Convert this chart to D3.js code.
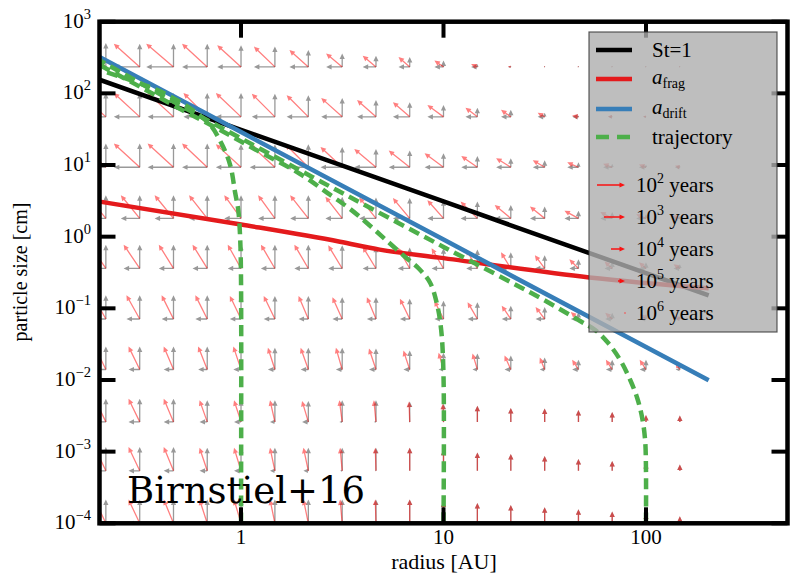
<!DOCTYPE html>
<html>
<head>
<meta charset="utf-8">
<script src="https://cdn.jsdelivr.net/npm/d3@7/dist/d3.min.js"></script>
<style>
  body { margin: 0; background: #fff; }
  svg { display: block; }
  text { font-family: "Liberation Serif", "Times New Roman", serif; fill: #000; }
</style>
</head>
<body>
<svg id="chart" width="795" height="574"></svg>
<script>
// ---- grid of the velocity field ----
const radii = [0.215, 0.316, 0.464, 0.681, 1, 1.47, 2.15, 3.16, 4.64, 6.81, 10, 14.7, 21.5, 31.6, 46.4, 68.1, 100, 147]; // AU
const sizes = [234, 47, 9.3, 1.8, 0.36, 0.071, 0.014, 0.0026, 0.00054, 0.0001]; // cm

// log10 of the drift timescale [yr], one row per particle size
const driftLogYears = [
  [2.3,2.3,2.1,2.4,2.6,3.0,3.3,3.7,4.1,4.4,4.7,5.1,5.6,5.9,5.9,5.9,5.9,5.9],
  [2.3,2.3,2.3,2.6,2.4,2.7,2.9,3.0,3.3,3.6,3.7,4.3,4.6,5.0,5.1,5.4,5.6,5.7],
  [2.3,2.3,2.3,2.4,2.4,2.4,2.7,2.9,2.9,3.0,3.3,3.7,3.9,4.3,4.4,4.7,5.0,5.3],
  [3.3,3.3,3.3,3.4,3.6,3.6,3.4,3.6,3.6,3.6,3.7,3.6,3.7,3.9,4.0,4.3,4.6,4.9],
  [3.7,3.7,3.9,3.9,4.1,4.0,4.0,4.0,4.1,4.3,4.3,4.4,4.6,4.6,4.7,4.9,5.0,5.1],
  [4.1,4.1,4.3,4.3,4.4,4.4,4.6,4.6,4.7,4.6,4.7,4.6,4.7,4.7,4.9,5.0,5.1,5.3],
  [4.4,4.4,4.6,4.7,4.9,5.0,4.9,5.1,5.0,5.1,5.3,5.3,5.1,5.3,5.1,5.1,5.1,5.4],
  [4.4,4.4,4.6,4.9,5.0,5.3,5.1,5.6,5.7,5.9,5.9,6,6,6,6,6,6,6],
  [4.4,4.4,4.6,4.9,5.0,5.3,5.3,5.7,5.9,6,6,6,6,6,6,6,6,6],
  [4.4,4.4,4.6,4.9,5.0,5.3,5.3,5.7,5.9,6,6,6,6,6,6,6,6,6]
];

// log10 of the growth timescale [yr]
const growLogYears = [
  [2.6,2.7,2.7,2.7,2.9,3.1,3.6,4.1,4.4,4.6,5.1,5.6,5.9,5.9,5.9,5.9,5.9,5.9],
  [2.6,2.6,2.6,2.6,2.6,2.7,2.9,3.3,3.6,3.9,4.3,4.7,5.0,5.4,5.8,5.9,5.9,5.9],
  [2.6,2.6,2.6,2.6,2.7,2.7,2.7,3.1,3.4,3.6,4.0,4.4,4.7,5.0,5.3,5.5,5.6,5.8],
  [2.7,2.7,2.7,2.7,2.7,2.7,2.7,2.9,3.0,3.1,3.4,3.6,4.1,4.3,4.9,5.1,5.4,5.6],
  [2.6,2.6,2.6,2.6,2.6,2.6,2.6,2.7,2.9,3.0,3.1,3.3,3.7,4.1,4.7,5.0,5.1,5.4],
  [2.6,2.6,2.6,2.6,2.7,2.7,2.7,2.9,2.9,3.1,3.4,3.6,4.1,4.3,5.0,5.1,5.3,5.6],
  [2.7,2.7,2.7,2.7,2.7,2.9,2.9,2.9,3.0,3.3,3.6,3.7,4.0,4.3,4.6,4.6,4.6,5.0],
  [2.7,2.7,2.7,2.9,2.9,2.9,3.0,2.9,2.9,3.1,3.4,3.7,4.0,4.1,4.3,4.6,5.0,5.1],
  [2.6,2.6,2.6,2.7,2.7,2.7,2.7,2.7,2.7,2.7,3.0,3.4,3.6,3.9,4.3,4.6,4.9,5.1],
  [2.6,2.6,2.6,2.6,2.6,2.6,2.6,2.6,2.6,2.6,2.9,3.1,3.4,3.7,4.0,4.3,4.6,5.0]
];

// ---- characteristic sizes ----
const stokesR = [0.2, 1, 10, 100, 204];
const stokesA = [155, 31, 3.1, 0.31, 0.152];
const fragR = [0.2, 1, 3.08, 4.84, 9.55, 52.5, 204];
const fragA = [3.09, 1.48, 0.85, 0.66, 0.51, 0.27, 0.19];
const driftR = [0.2, 1, 10, 100, 204];
const driftA = [322, 28.8, 0.91, 0.0288, 0.0099];

// ---- particle trajectories ----
const traj1R = [1, 1, 0.991, 0.969, 0.936, 0.884, 0.808, 0.705, 0.594, 0.501, 0.386, 0.294, 0.2];
const traj1A = [1e-4, 0.249, 0.9, 2.36, 4.07, 10, 19, 36.2, 55, 75.7, 111, 148, 212];
const traj2R = [10, 10, 9.74, 9.31, 8.60, 7.59, 6.47, 5.33, 4.35, 3.46, 2.76, 1.96, 1.24, 0.789, 0.501, 0.318, 0.2];
const traj2A = [1e-4, 0.0117, 0.0499, 0.111, 0.226, 0.354, 0.521, 0.844, 1.41, 2.43, 3.82, 7.5, 15.2, 30.8, 60.5, 123, 249];
const traj3R = [100, 100, 99, 95.8, 90.5, 83.6, 74.6, 65.1, 56.1, 47.3, 30, 10, 3, 1, 0.5, 0.2];
const traj3A = [1e-4, 5.5e-4, 1.46e-3, 2.95e-3, 5.6e-3, 0.01, 0.019, 0.0328, 0.0499, 0.0665, 0.14, 0.72, 4.4, 23.5, 68, 290];

// ---- axes and legend ----
const xTicks = [1, 10, 100];
const yTicks = [1e-4, 1e-3, 1e-2, 1e-1, 1e0, 1e1, 1e2, 1e3];
const keyYears = [1e2, 1e3, 1e4, 1e5, 1e6];
const lineLegend = [
  { key: "st",    label: "St=1",  color: "#000000" },
  { key: "frag",  label: "frag",  color: "#e41a1c" },
  { key: "drift", label: "drift", color: "#377eb8" },
  { key: "traj",  label: "trajectory", color: "#4daf4a" }
];

const svg = d3.select("#chart");
const pLeft = 99.5, pRight = 787.5, pTop = 21.7, pBottom = 523.3;

const x = d3.scaleLog().domain([0.2, 500]).range([pLeft, pRight]);
const y = d3.scaleLog().domain([1e-4, 1e3]).range([pBottom, pTop]);
// arrow length: 7 px per decade of timescale below 1e6 yr
const arrowLen = d3.scaleLinear().domain([6, 2]).range([0, 28]).clamp(true);

svg.append("defs").append("clipPath").attr("id", "plotclip")
  .append("rect").attr("x", pLeft).attr("y", pTop).attr("width", pRight - pLeft).attr("height", pBottom - pTop);

function arrowPath(x0, y0, dx, dy) {
  const L = Math.hypot(dx, dy);
  if (L < 0.25) return null;
  const ux = dx / L, uy = dy / L, px = -uy, py = ux;
  let hl = 5.5, hw = 2.6, sw = 0.65;
  if (L < hl * 1.1) { const s = L / (hl * 1.1); hl *= s; hw = Math.max(hw * s, 0.8); sw = Math.max(sw * s, 0.4); }
  const sx = x0 + ux * (L - hl), sy = y0 + uy * (L - hl);
  const pts = [
    [x0 + px * sw, y0 + py * sw],
    [sx + px * sw, sy + py * sw],
    [sx + px * hw, sy + py * hw],
    [x0 + dx, y0 + dy],
    [sx - px * hw, sy - py * hw],
    [sx - px * sw, sy - py * sw],
    [x0 - px * sw, y0 - py * sw]
  ];
  return "M" + pts.map(p => p[0].toFixed(2) + "," + p[1].toFixed(2)).join("L") + "Z";
}

// ---- velocity field ----
const field = [];
sizes.forEach((a, i) => radii.forEach((r, j) => {
  field.push({ r, a, lh: arrowLen(driftLogYears[i][j]), lv: arrowLen(growLogYears[i][j]) });
}));

const gField = svg.append("g").attr("clip-path", "url(#plotclip)");
const grayPaths = [];
field.forEach(d => {
  const bx = x(d.r), by = y(d.a);
  const h = arrowPath(bx, by, -d.lh, 0);
  const v = arrowPath(bx, by, 0, -d.lv);
  if (h) grayPaths.push(h);
  if (v) grayPaths.push(v);
});
gField.selectAll("path.gray").data(grayPaths).join("path")
  .attr("class", "gray").attr("d", d => d).attr("fill", "#808080").attr("fill-opacity", 0.8);
gField.selectAll("path.red").data(field.map(d => arrowPath(x(d.r), y(d.a), -d.lh, -d.lv)).filter(Boolean)).join("path")
  .attr("class", "red").attr("d", d => d).attr("fill", "#ff0000").attr("fill-opacity", 0.5);

// ---- curves ----
const gLines = svg.append("g").attr("clip-path", "url(#plotclip)");
const lineGen = d3.line().x(d => x(d[0])).y(d => y(d[1]));
const smooth = d3.line().x(d => x(d[0])).y(d => y(d[1])).curve(d3.curveMonotoneX);
const traj = d3.line().x(d => x(d[0])).y(d => y(d[1])).curve(d3.curveCatmullRom.alpha(0.5));

gLines.append("path").attr("d", lineGen(d3.zip(stokesR, stokesA)))
  .attr("fill", "none").attr("stroke", "#000").attr("stroke-width", 4.5);
gLines.append("path").attr("d", smooth(d3.zip(fragR, fragA)))
  .attr("fill", "none").attr("stroke", "#e41a1c").attr("stroke-width", 4.5);
gLines.append("path").attr("d", lineGen(d3.zip(driftR, driftA)))
  .attr("fill", "none").attr("stroke", "#377eb8").attr("stroke-width", 4.5);
[[traj1R, traj1A], [traj2R, traj2A], [traj3R, traj3A]].forEach(([rs, as]) => {
  gLines.append("path").attr("d", traj(d3.zip(rs, as)))
    .attr("fill", "none").attr("stroke", "#4daf4a").attr("stroke-width", 4.5)
    .attr("stroke-dasharray", "11,6");
});

// ---- frame and ticks ----
const frame = svg.append("g");
frame.append("rect").attr("x", pLeft).attr("y", pTop).attr("width", pRight - pLeft).attr("height", pBottom - pTop)
  .attr("fill", "none").attr("stroke", "#000").attr("stroke-width", 4.5);
const tl = 16;
xTicks.forEach(t => {
  frame.append("line").attr("x1", x(t)).attr("x2", x(t)).attr("y1", pBottom).attr("y2", pBottom - tl)
    .attr("stroke", "#000").attr("stroke-width", 4);
  frame.append("line").attr("x1", x(t)).attr("x2", x(t)).attr("y1", pTop).attr("y2", pTop + tl)
    .attr("stroke", "#000").attr("stroke-width", 4);
  frame.append("text").attr("x", x(t)).attr("y", 544).attr("text-anchor", "middle")
    .attr("font-size", 21).text(d3.format("d")(t));
});
yTicks.forEach(t => {
  frame.append("line").attr("x1", pLeft).attr("x2", pLeft + tl).attr("y1", y(t)).attr("y2", y(t))
    .attr("stroke", "#000").attr("stroke-width", 4);
  frame.append("line").attr("x1", pRight).attr("x2", pRight - tl).attr("y1", y(t)).attr("y2", y(t))
    .attr("stroke", "#000").attr("stroke-width", 4);
  const e = Math.round(Math.log10(t));
  const lab = frame.append("text").attr("x", 91).attr("y", y(t) + 6).attr("text-anchor", "end").attr("font-size", 21);
  lab.append("tspan").text("10");
  lab.append("tspan").attr("dy", -9).attr("font-size", 14.5).text(e < 0 ? "\u2212" + (-e) : String(e));
});

svg.append("text").attr("x", 444).attr("y", 569).attr("text-anchor", "middle").attr("font-size", 22)
  .text("radius [AU]");
svg.append("text").attr("transform", "translate(27,272) rotate(-90)").attr("text-anchor", "middle")
  .attr("font-size", 20).text("particle size [cm]");

svg.append("text").attr("x", 127).attr("y", 503)
  .style("font-family", "'DejaVu Serif', serif").attr("font-size", 37).text("Birnstiel+16");

// ---- legend ----
const lg = svg.append("g");
lg.append("rect").attr("x", 589).attr("y", 32).attr("width", 188).attr("height", 300)
  .attr("fill", "#aeaeae").attr("fill-opacity", 0.8).attr("stroke", "#333").attr("stroke-opacity", 0.8).attr("stroke-width", 1.2);
const rowY = [50, 79, 109, 137];
lineLegend.forEach((d, i) => {
  const ly = rowY[i];
  lg.append("line").attr("x1", 596).attr("x2", 632).attr("y1", ly).attr("y2", ly)
    .attr("stroke", d.color).attr("stroke-width", 4.5)
    .attr("stroke-dasharray", d.key === "traj" ? "13,8" : null);
  if (d.key === "frag" || d.key === "drift") {
    const t = lg.append("text").attr("x", 652).attr("y", ly + 4.5).attr("font-size", 21);
    t.append("tspan").attr("font-style", "italic").text("a");
    t.append("tspan").attr("dy", 4).attr("font-size", 14).text(d.label);
  } else {
    lg.append("text").attr("x", 652).attr("y", ly + 7).attr("font-size", 21).text(d.label);
  }
});
const keyY = [185, 217, 249, 281, 313];
keyYears.forEach((t, i) => {
  const L = arrowLen(Math.log10(t));
  const p = arrowPath(625 - L, keyY[i], L, 0);
  if (p) lg.append("path").attr("d", p).attr("fill", "#ff0000").attr("fill-opacity", 0.9);
  else lg.append("circle").attr("cx", 625).attr("cy", keyY[i]).attr("r", 0.8).attr("fill", "#ff4040");
  const txt = lg.append("text").attr("x", 636).attr("y", keyY[i] + 6.5).attr("font-size", 21);
  txt.append("tspan").text("10");
  txt.append("tspan").attr("dy", -9).attr("font-size", 14).text(Math.round(Math.log10(t)));
  txt.append("tspan").attr("dy", 9).text(" years");
});
</script>
</body>
</html>
